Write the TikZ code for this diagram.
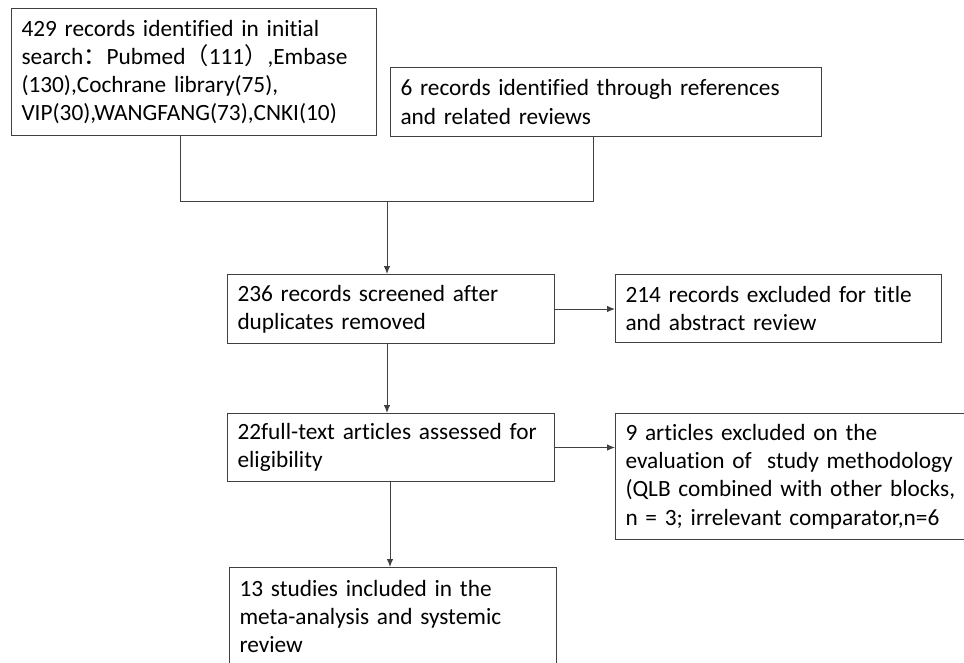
\documentclass[tikz,border=0pt]{standalone}
\usepackage{fontspec}
\setmainfont{Carlito}[Ligatures=NoCommon]
\newfontfamily\cjk{Noto Sans CJK SC}
\usetikzlibrary{arrows.meta}
\definecolor{ln}{HTML}{404040}
\tikzset{
  box/.style={draw=ln, line width=1pt, anchor=north west, inner xsep=10pt, inner ysep=0pt,
    align=left, font=\fontsize{23.3}{28.3}\selectfont, text=black},
  conn/.style={draw=ln, line width=1pt},
  arr/.style={conn, -{Latex[length=8pt,width=6.5pt]}}
}
\begin{document}
\begin{tikzpicture}[x=1pt,y=-1pt]
\useasboundingbox[fill=white] (0,0) rectangle (964,662);
\clip (0,0) rectangle (964,662);
\node[box, text width=345pt, minimum height=127pt] (b1) at (11,8)
  {429 records identified in initial\\search{\cjk ：}Pubmed{\cjk （}111{\cjk ）},Embase\\(130),Cochrane library(75),\\VIP(30),WANGFANG(73),CNKI(10)};
\node[box, text width=411pt, minimum height=69pt] (b2) at (390,67)
  {6 records identified through references\\and related reviews};
\node[box, text width=307pt, minimum height=69pt] (b3) at (227,274)
  {236 records screened after\\duplicates removed};
\node[box, text width=306pt, minimum height=68pt] (b4) at (615,274)
  {214 records excluded for title\\and abstract review};
\node[box, text width=307pt, minimum height=68pt] (b5) at (227,413)
  {22full-text articles assessed for\\eligibility};
\node[box, text width=345pt, minimum height=126pt] (b6) at (615,413)
  {9 articles excluded on the\\evaluation of \ study methodology\\(QLB combined with other blocks,\\n = 3; irrelevant comparator,n=6};
\node[box, text width=307pt, minimum height=98pt] (b7) at (229,567)
  {13 studies included in the\\meta-analysis and systemic\\review};
\coordinate (j1) at (180,201);
\coordinate (j2) at (593,201);
\coordinate (jm) at (387,201);
\draw[conn] (b1.south -| j1) -- (j1) -- (j2) -- (b2.south -| j2);
\draw[arr] (jm) -- (b3.north -| jm);
\draw[arr] (b3.east) -- (b4.west |- b3.east);
\draw[arr] (b3.south -| jm) -- (b5.north -| jm);
\draw[arr] (b5.east) -- (b6.west |- b5.east);
\coordinate (j3) at (390,481);
\draw[arr] (b5.south -| j3) -- (b7.north -| j3);
\end{tikzpicture}
\end{document}
